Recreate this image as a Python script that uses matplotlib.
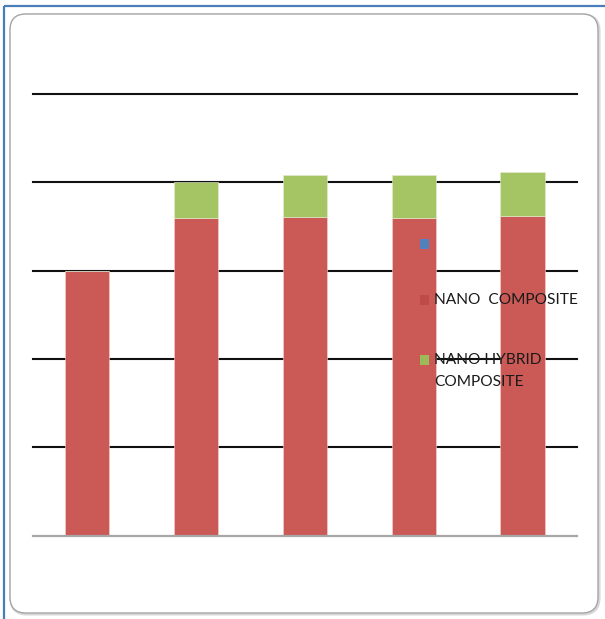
import matplotlib
matplotlib.use("Agg")
import matplotlib.pyplot as plt
from matplotlib.patches import FancyBboxPatch, Rectangle
import numpy as np

categories = ["1", "2", "3", "4", "5"]
series_names = ["", "NANO  COMPOSITE", "NANO HYBRID\nCOMPOSITE"]
blank_series = [0, 0, 0, 0, 0]
nano_composite = [3.0, 3.60, 3.61, 3.60, 3.62]
nano_hybrid = [0.0, 0.40, 0.47, 0.48, 0.50]
colors = ["#4F81BD", "#CB5A56", "#A5C565"]
legend_colors = ["#4F81BD", "#BE4B48", "#9BBB59"]

W, H = 605, 619
fig = plt.figure(figsize=(W / 100, H / 100), dpi=100)
fig.patch.set_facecolor("white")

# background frame axes in pixel coordinates
bg = fig.add_axes([0, 0, 1, 1], zorder=0)
bg.set_xlim(0, W)
bg.set_ylim(H, 0)
bg.axis("off")
bg.add_patch(FancyBboxPatch((11, 15), 588, 599, boxstyle="round,pad=0,rounding_size=16",
                            facecolor="none", edgecolor="#D8D8D8", linewidth=2.2))
bg.add_patch(FancyBboxPatch((10, 14), 588, 599, boxstyle="round,pad=0,rounding_size=16",
                            facecolor="white", edgecolor="#A6A6A6", linewidth=1.0))
bg.plot([4, W], [6, 6], color="#4A7EBB", linewidth=1.6, solid_capstyle="butt")
bg.plot([4, 4], [6, H], color="#4A7EBB", linewidth=1.6, solid_capstyle="butt")

# main axes
left, right = 32.5, 577
bottom_px, top_px = 535.7, 94.2
ax = fig.add_axes([left / W, (H - bottom_px) / H, (right - left) / W, (bottom_px - top_px) / H], zorder=1)
ax.set_facecolor("none")
x = np.arange(len(categories))
bw = 0.405
ax.bar(x, blank_series, bw, color=colors[0], zorder=3)
ax.bar(x, nano_composite, bw, color=colors[1], zorder=3,
       edgecolor="#F3D6D5", linewidth=0.4)
ax.bar(x, nano_hybrid, bw, bottom=nano_composite, color=colors[2], zorder=3,
       edgecolor="#E3EFD3", linewidth=0.4)
ax.set_xlim(-0.5, len(categories) - 0.5)
ax.set_ylim(0, 5)
for yv in [1, 2, 3, 4, 5]:
    ax.axhline(yv, color="#111111", linewidth=1.5, zorder=1, clip_on=False)
ax.axhline(0, color="#A6A6A6", linewidth=1.6, zorder=4, clip_on=False)
for s in ax.spines.values():
    s.set_visible(False)
ax.set_xticks([])
ax.set_yticks([])

# legend drawn in pixel coords on an overlay axes
lg = fig.add_axes([0, 0, 1, 1], zorder=5)
lg.set_xlim(0, W)
lg.set_ylim(H, 0)
lg.axis("off")
legend_y = [244, 300, 360]
for name, col, yy in zip(series_names, legend_colors, legend_y):
    lg.add_patch(Rectangle((419.5, yy - 5), 9, 9.5, facecolor=col, edgecolor="none"))
    lines = name.split("\n")
    for k, ln in enumerate(lines):
        lg.text(434.5, yy + k * 22, ln, fontsize=11.2, family=["Lato", "DejaVu Sans"],
                color="#1A1A1A", va="center", ha="left")

fig.savefig("out.png", dpi=100)
